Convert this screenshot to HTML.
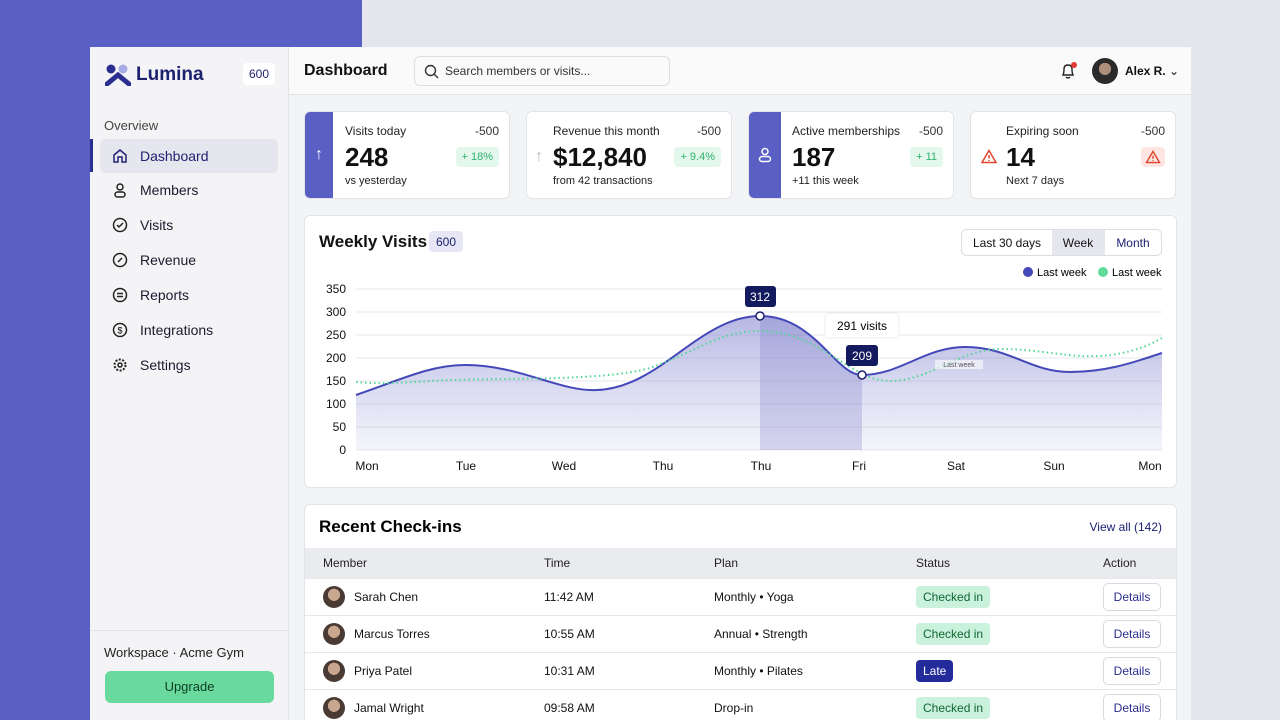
<!DOCTYPE html>
<html><head><meta charset="utf-8"><style>
*{box-sizing:border-box;margin:0;padding:0}
html,body{width:1280px;height:720px;overflow:hidden}
body{background:#e4e6ec;font-family:"Liberation Sans",sans-serif;color:#111;position:relative}
.purple{position:absolute;left:0;top:0;width:362px;height:720px;background:#5a5fc4}
.frame{position:absolute;left:90px;top:47px;width:1101px;height:673px;background:#f3f4f6;overflow:hidden}
.side{position:absolute;left:0;top:0;width:199px;height:673px;background:#f4f4f6;border-right:1px solid #e3e4e8}
.top{position:absolute;left:199px;top:0;right:0;height:48px;background:#fafafa;border-bottom:1px solid #e3e4e8}
.abs{position:absolute}
.nav{position:absolute;left:10px;width:178px;height:34px;display:flex;align-items:center;padding-left:12px;font-size:14px;color:#1a1a2e;gap:12px}
.nav svg{width:16px;height:16px}
.card{position:absolute;background:#fff;border:1px solid #e3e4e8;border-radius:6px;overflow:hidden}
.kpi{top:64px;width:206px;height:88px}
.kpi .strip{position:absolute;left:0;top:0;width:28px;height:100%;background:#5a5fc4;color:#fff;display:flex;align-items:center;justify-content:center;font-size:16px}
.kpi .t{position:absolute;left:40px;top:12px;font-size:12px;color:#222}
.kpi .m{position:absolute;right:10px;top:12px;font-size:12px;color:#333}
.kpi .v{position:absolute;left:40px;top:30px;font-size:26px;font-weight:bold}
.kpi .s{position:absolute;left:40px;top:63px;font-size:11px;color:#222}
.kpi .b{position:absolute;right:10px;top:35px;height:20px;padding:0 6px;border-radius:4px;background:#e3f7ec;color:#2fb36b;font-size:11px;line-height:20px}
.row{position:absolute;left:305px;width:871px;height:37px;border-top:1px solid #e6e7eb;font-size:12px;color:#111}
.row span{position:absolute;top:11px}
.pill{position:absolute;top:7px;left:611px;height:22px;padding:0 7px;line-height:22px;border-radius:4px;background:#c9f1dc;font-size:12px;color:#163}
.det{position:absolute;left:798px;top:4px;width:58px;height:28px;border:1px solid #d8dae0;border-radius:5px;text-align:center;line-height:26px;color:#2a2f8f;font-size:12px;background:#fff}
.av{position:absolute;left:18px;top:7px;width:22px;height:22px;border-radius:50%;background:radial-gradient(circle at 50% 40%,#c9a68e 0 35%,#4a3a34 36%)}
</style></head><body>
<div class="purple"></div>
<div class="frame">
 <div class="side">
  <svg class="abs" style="left:15px;top:17px" width="26" height="22" viewBox="0 0 26 22"><circle cx="6" cy="5" r="4.5" fill="#2a2f8f"/><circle cx="18" cy="5" r="4.5" fill="#a9abe6"/><path d="M2 20 L13 11 L24 20" stroke="#2a2f8f" stroke-width="5" fill="none" stroke-linecap="round"/></svg>
  <div class="abs" style="left:46px;top:17px;font-size:19px;font-weight:bold;color:#1d2270">Lumina</div>
  <div class="abs" style="left:153px;top:16px;width:32px;height:22px;background:#fff;border-radius:4px;font-size:12px;color:#1d2270;text-align:center;line-height:22px">600</div>
  <div class="abs" style="left:14px;top:71px;font-size:13px;color:#444">Overview</div>
  <div class="abs" style="left:0;top:92px;width:3px;height:33px;background:#2a2f8f"></div>
  <div class="nav" style="top:92px;background:#e6e6ef;border-radius:5px;color:#1d2270"><svg viewBox="0 0 16 16"><path d="M2 7 L8 2 L14 7 V14 H10 V9 H6 V14 H2Z" fill="none" stroke="#1d2270" stroke-width="1.5"/></svg>Dashboard</div>
  <div class="nav" style="top:126px"><svg viewBox="0 0 16 16"><circle cx="8" cy="5" r="3" fill="none" stroke="#222" stroke-width="1.5"/><rect x="3" y="10" width="10" height="5" rx="2.5" fill="none" stroke="#222" stroke-width="1.5"/></svg>Members</div>
  <div class="nav" style="top:161px"><svg viewBox="0 0 16 16"><circle cx="8" cy="8" r="6.5" fill="none" stroke="#222" stroke-width="1.5"/><path d="M5 8 l2 2 l4-4" fill="none" stroke="#222" stroke-width="1.5"/></svg>Visits</div>
  <div class="nav" style="top:196px"><svg viewBox="0 0 16 16"><circle cx="8" cy="8" r="6.5" fill="none" stroke="#222" stroke-width="1.5"/><path d="M6 10 l4-4" stroke="#222" stroke-width="1.5"/></svg>Revenue</div>
  <div class="nav" style="top:231px"><svg viewBox="0 0 16 16"><circle cx="8" cy="8" r="6.5" fill="none" stroke="#222" stroke-width="1.5"/><path d="M5 6.5h6M5 9.5h6" stroke="#222" stroke-width="1.5"/></svg>Reports</div>
  <div class="nav" style="top:266px"><svg viewBox="0 0 16 16"><circle cx="8" cy="8" r="6.5" fill="none" stroke="#222" stroke-width="1.5"/><text x="8" y="11.5" font-size="9" text-anchor="middle" font-family="Liberation Sans">$</text></svg>Integrations</div>
  <div class="nav" style="top:301px"><svg viewBox="0 0 16 16"><circle cx="8" cy="8" r="5.5" fill="none" stroke="#222" stroke-width="2" stroke-dasharray="2 1.5"/><circle cx="8" cy="8" r="2" fill="none" stroke="#222" stroke-width="1.5"/></svg>Settings</div>
  <div class="abs" style="left:0;top:583px;width:199px;border-top:1px solid #e3e4e8"></div>
  <div class="abs" style="left:14px;top:598px;font-size:13px;color:#222">Workspace · Acme Gym</div>
  <div class="abs" style="left:15px;top:624px;width:169px;height:32px;background:#6ad99e;border-radius:6px;text-align:center;line-height:32px;font-size:13px;color:#0d3d24">Upgrade</div>
 </div>
 <div class="top">
  <div class="abs" style="left:15px;top:15px;font-size:16px;font-weight:bold">Dashboard</div>
  <div class="abs" style="left:125px;top:9px;width:256px;height:30px;border:1px solid #dcdde2;border-radius:6px;background:#fafafa;font-size:12px;color:#333;line-height:28px;padding-left:30px">Search members or visits...
   <svg class="abs" style="left:9px;top:7px" width="15" height="15" viewBox="0 0 15 15"><circle cx="6.5" cy="6.5" r="5" fill="none" stroke="#333" stroke-width="1.4"/><path d="M10 10l4 4" stroke="#333" stroke-width="1.4"/></svg></div>
  <svg class="abs" style="left:770px;top:14px" width="20" height="20" viewBox="0 0 20 20"><path d="M4 14 Q5 12 5 8 Q5 4 9 4 Q13 4 13 8 Q13 12 14 14Z M7 16 Q9 18 11 16" fill="none" stroke="#222" stroke-width="1.4"/><circle cx="15" cy="4" r="3" fill="#e53935"/></svg>
  <div class="abs" style="left:803px;top:11px;width:26px;height:26px;border-radius:50%;background:radial-gradient(circle at 50% 42%,#b08f7a 0 30%,#2b2b2b 31%)"></div>
  <div class="abs" style="left:836px;top:17px;font-size:12px;font-weight:bold">Alex R. <span style="font-weight:normal">⌄</span></div>
 </div>
 <div class="card kpi" style="left:214px"><div class="strip">↑</div><div class="t">Visits today</div><div class="m">-500</div><div class="v">248</div><div class="s">vs yesterday</div><div class="b">+ 18%</div></div>
 <div class="card kpi" style="left:436px"><div class="abs" style="left:8px;top:36px;color:#bbb;font-size:16px">↑</div><div class="t" style="left:26px">Revenue this month</div><div class="m">-500</div><div class="v" style="left:26px">$12,840</div><div class="s" style="left:26px">from 42 transactions</div><div class="b">+ 9.4%</div></div>
 <div class="card kpi" style="left:658px"><div class="strip" style="width:32px"><svg width="14" height="16" viewBox="0 0 14 16"><circle cx="7" cy="4.5" r="3" fill="none" stroke="#fff" stroke-width="1.5"/><rect x="1.5" y="9.5" width="11" height="5" rx="2.5" fill="none" stroke="#fff" stroke-width="1.5"/></svg></div><div class="t" style="left:43px">Active memberships</div><div class="m">-500</div><div class="v" style="left:43px">187</div><div class="s" style="left:43px">+11 this week</div><div class="b">+ 11</div></div>
 <div class="card kpi" style="left:880px"><svg class="abs" style="left:10px;top:37px" width="16" height="15" viewBox="0 0 16 15"><path d="M8 1.5 L15 13.5 H1Z" fill="none" stroke="#e0452f" stroke-width="1.5"/><path d="M8 6v3.5M8 11v1" stroke="#e0452f" stroke-width="1.5"/></svg><div class="t" style="left:35px">Expiring soon</div><div class="m">-500</div><div class="v" style="left:35px">14</div><div class="s" style="left:35px">Next 7 days</div><div class="b" style="background:#fde6e1;width:24px;padding:0"><svg style="margin:3px 4px" width="16" height="14" viewBox="0 0 16 15"><path d="M8 1.5 L15 13.5 H1Z" fill="none" stroke="#e0452f" stroke-width="1.5"/><path d="M8 6v3.5M8 11v1" stroke="#e0452f" stroke-width="1.5"/></svg></div></div>
 <div class="card" style="left:214px;top:168px;width:873px;height:273px"></div>
 <div class="card" style="left:214px;top:457px;width:873px;height:240px"></div>
</div>
<svg class="abs" style="left:0;top:0" width="1280" height="720" font-family="Liberation Sans">
 <text x="319" y="247" font-size="17" font-weight="bold" fill="#111">Weekly Visits</text>
 <rect x="429" y="231" width="34" height="21" rx="4" fill="#e6e6f5"/><text x="446" y="246" font-size="12" fill="#1d2270" text-anchor="middle">600</text>
 <rect x="961.5" y="229.5" width="200" height="26" rx="5" fill="#fff" stroke="#dcdde2"/>
 <rect x="1052" y="230" width="53" height="25" fill="#e6e7ee"/>
 <text x="1007" y="247" font-size="12" text-anchor="middle" fill="#111">Last 30 days</text>
 <text x="1078" y="247" font-size="12" text-anchor="middle" fill="#111">Week</text>
 <text x="1133" y="247" font-size="12" text-anchor="middle" fill="#1d2270">Month</text>
 <circle cx="1028" cy="272" r="5" fill="#4448b8"/><text x="1037" y="276" font-size="11">Last week</text>
 <circle cx="1103" cy="272" r="5" fill="#5fdb9a"/><text x="1112" y="276" font-size="11">Last week</text>
 <defs><linearGradient id="g" x1="0" y1="0" x2="0" y2="1"><stop offset="0" stop-color="#7a7dcc" stop-opacity=".55"/><stop offset="1" stop-color="#9496d6" stop-opacity=".1"/></linearGradient>
 <clipPath id="c"><rect x="760" y="280" width="102" height="175"/></clipPath></defs>
 <g stroke="#e6e7eb" stroke-width="1">
  <line x1="356" y1="289" x2="1162" y2="289"/><line x1="356" y1="312" x2="1162" y2="312"/><line x1="356" y1="335" x2="1162" y2="335"/><line x1="356" y1="358" x2="1162" y2="358"/><line x1="356" y1="381" x2="1162" y2="381"/><line x1="356" y1="404" x2="1162" y2="404"/><line x1="356" y1="427" x2="1162" y2="427"/><line x1="356" y1="450" x2="1162" y2="450"/>
 </g>
 <g font-size="12" fill="#111" text-anchor="end">
  <text x="346" y="293">350</text><text x="346" y="316">300</text><text x="346" y="339">250</text><text x="346" y="362">200</text><text x="346" y="385">150</text><text x="346" y="408">100</text><text x="346" y="431">50</text><text x="346" y="454">0</text>
 </g>
 <path d="M356 395 C400 380,430 365,465 365 C520 365,560 392,597 390 C660 388,700 316,760 316 C815 316,835 375,862 375 C900 375,925 347,965 347 C1010 347,1030 372,1070 372 C1110 372,1140 360,1162 353 L1162 450 L356 450Z" fill="url(#g)"/>
 <path d="M356 395 C400 380,430 365,465 365 C520 365,560 392,597 390 C660 388,700 316,760 316 C815 316,835 375,862 375 C900 375,925 347,965 347 C1010 347,1030 372,1070 372 C1110 372,1140 360,1162 353 L1162 450 L356 450Z" fill="#6e71c4" opacity=".25" clip-path="url(#c)"/>
 <path d="M356 395 C400 380,430 365,465 365 C520 365,560 392,597 390 C660 388,700 316,760 316 C815 316,835 375,862 375 C900 375,925 347,965 347 C1010 347,1030 372,1070 372 C1110 372,1140 360,1162 353" fill="none" stroke="#4448b8" stroke-width="2"/>
 <path d="M356 382 C380 384,400 383,430 381 C500 377,600 382,650 368 C700 350,720 331,760 331 C820 331,850 381,890 381 C930 381,960 349,1000 349 C1040 349,1070 358,1100 356 C1130 354,1150 345,1162 338" fill="none" stroke="#4fd692" stroke-width="2" stroke-dasharray="1.5 3"/>
 <circle cx="760" cy="316" r="4" fill="#fff" stroke="#1d2270" stroke-width="1.5"/>
 <circle cx="862" cy="375" r="4" fill="#fff" stroke="#1d2270" stroke-width="1.5"/>
 <rect x="745" y="286" width="31" height="21" rx="3" fill="#141a5e"/><text x="760" y="301" font-size="12" fill="#fff" text-anchor="middle">312</text>
 <rect x="825" y="313" width="74" height="25" rx="4" fill="#fff" stroke="#eee"/><text x="862" y="330" font-size="12" text-anchor="middle">291 visits</text>
 <rect x="846" y="345" width="32" height="21" rx="3" fill="#141a5e"/><text x="862" y="360" font-size="12" fill="#fff" text-anchor="middle">209</text>
 <rect x="935" y="360" width="48" height="9" fill="#fff" opacity=".6"/><text x="959" y="367" font-size="7" fill="#555" text-anchor="middle">Last week</text>
 <g font-size="12" fill="#111" text-anchor="middle">
  <text x="367" y="470">Mon</text><text x="466" y="470">Tue</text><text x="564" y="470">Wed</text><text x="663" y="470">Thu</text><text x="761" y="470">Thu</text><text x="859" y="470">Fri</text><text x="956" y="470">Sat</text><text x="1054" y="470">Sun</text><text x="1150" y="470">Mon</text>
 </g>
 <text x="319" y="532" font-size="17" font-weight="bold">Recent Check-ins</text>
 <text x="1162" y="531" font-size="12" fill="#1d2270" text-anchor="end">View all (142)</text>
 <rect x="305" y="548" width="871" height="30" fill="#eaebef"/>
 <g font-size="12" fill="#222"><text x="323" y="567">Member</text><text x="544" y="567">Time</text><text x="714" y="567">Plan</text><text x="916" y="567">Status</text><text x="1103" y="567">Action</text></g>
</svg>
<div class="row" style="top:578px"><div class="av"></div><span style="left:49px">Sarah Chen</span><span style="left:239px">11:42 AM</span><span style="left:409px">Monthly • Yoga</span><div class="pill">Checked in</div><div class="det">Details</div></div>
<div class="row" style="top:615px"><div class="av"></div><span style="left:49px">Marcus Torres</span><span style="left:239px">10:55 AM</span><span style="left:409px">Annual • Strength</span><div class="pill">Checked in</div><div class="det">Details</div></div>
<div class="row" style="top:652px"><div class="av"></div><span style="left:49px">Priya Patel</span><span style="left:239px">10:31 AM</span><span style="left:409px">Monthly • Pilates</span><div class="pill" style="background:#232a9a;color:#fff">Late</div><div class="det">Details</div></div>
<div class="row" style="top:689px"><div class="av"></div><span style="left:49px">Jamal Wright</span><span style="left:239px">09:58 AM</span><span style="left:409px">Drop-in</span><div class="pill">Checked in</div><div class="det">Details</div></div>
</body></html>
